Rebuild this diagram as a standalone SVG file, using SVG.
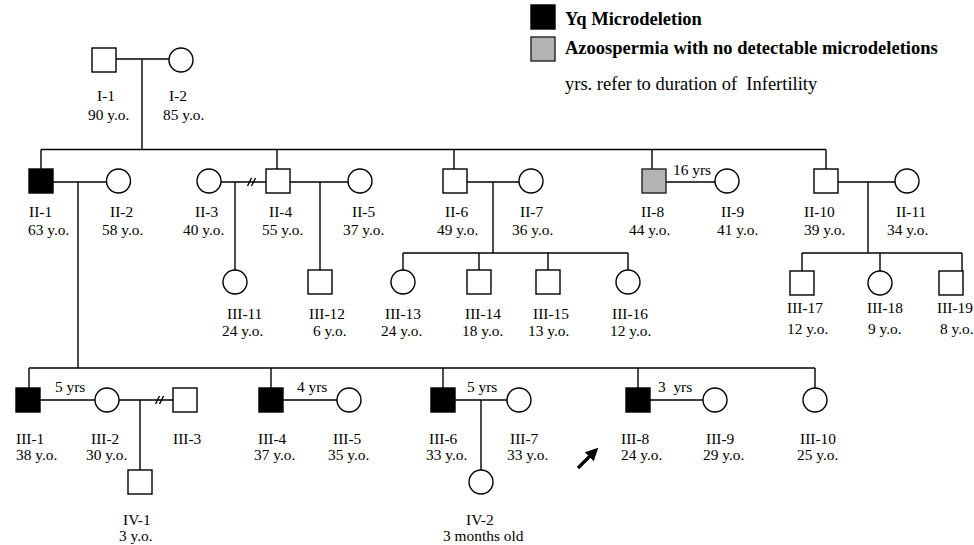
<svg xmlns="http://www.w3.org/2000/svg" width="974" height="545" viewBox="0 0 974 545">
<style>
.s{fill:#fff;stroke:#000;stroke-width:1.4}
.a{fill:#000;stroke:#000;stroke-width:1.4}
.g{fill:#b4b4b4;stroke:#222;stroke-width:1.4}
.l{stroke:#000;stroke-width:1.4;fill:none}
text{font-family:"Liberation Serif","Times New Roman",serif;font-size:15.4px;fill:#000}
.b{font-weight:bold;font-size:18.5px}
.n{font-size:18.5px}
</style>
<defs>
<marker id="ah" markerWidth="4" markerHeight="4" refX="3" refY="2" orient="auto" markerUnits="strokeWidth">
<path d="M0,0 L4,2 L0,4 Z" fill="#000"/>
</marker>
</defs>
<g id="legend">
<rect x="531" y="5" width="24" height="24" class="a"/>
<text x="565" y="25" class="b">Yq Microdeletion</text>
<rect x="531" y="37" width="24" height="24" class="g"/>
<text x="565" y="54" class="b">Azoospermia with no detectable microdeletions</text>
<text x="565" y="90" class="n" xml:space="preserve">yrs. refer to duration of  Infertility</text>
</g>
<g id="connectors">
<line class="l" x1="116" y1="59" x2="169" y2="59"/>
<line class="l" x1="142" y1="59" x2="142" y2="149.5"/>
<line class="l" x1="41" y1="149.5" x2="826" y2="149.5"/>
<line class="l" x1="41" y1="149.5" x2="41" y2="169"/>
<line class="l" x1="277" y1="149.5" x2="277" y2="169"/>
<line class="l" x1="454" y1="149.5" x2="454" y2="169"/>
<line class="l" x1="652" y1="149.5" x2="652" y2="169"/>
<line class="l" x1="826" y1="149.5" x2="826" y2="169"/>
<line class="l" x1="53" y1="182" x2="106.5" y2="182"/>
<line class="l" x1="78" y1="182" x2="78" y2="368"/>
<line class="l" x1="221" y1="182" x2="266" y2="182"/>
<line class="l" x1="247.5" y1="186" x2="251.5" y2="178"/>
<line class="l" x1="251.5" y1="186" x2="255.5" y2="178"/>
<line class="l" x1="235" y1="182" x2="235" y2="270"/>
<line class="l" x1="290" y1="182" x2="348" y2="182"/>
<line class="l" x1="320" y1="182" x2="320" y2="270"/>
<line class="l" x1="467" y1="182" x2="519" y2="182"/>
<line class="l" x1="493" y1="182" x2="493" y2="253"/>
<line class="l" x1="403" y1="253" x2="628" y2="253"/>
<line class="l" x1="403" y1="253" x2="403" y2="270"/>
<line class="l" x1="479" y1="253" x2="479" y2="270"/>
<line class="l" x1="548" y1="253" x2="548" y2="270"/>
<line class="l" x1="628" y1="253" x2="628" y2="270"/>
<line class="l" x1="666" y1="182" x2="715" y2="182"/>
<line class="l" x1="838" y1="182" x2="895" y2="182"/>
<line class="l" x1="868" y1="182" x2="868" y2="253"/>
<line class="l" x1="802" y1="253" x2="962" y2="253"/>
<line class="l" x1="802" y1="253" x2="802" y2="271"/>
<line class="l" x1="880" y1="253" x2="880" y2="271"/>
<line class="l" x1="962" y1="253" x2="962" y2="271"/>
<line class="l" x1="29" y1="368" x2="815" y2="368"/>
<line class="l" x1="29" y1="368" x2="29" y2="388"/>
<line class="l" x1="271" y1="368" x2="271" y2="388"/>
<line class="l" x1="443" y1="368" x2="443" y2="388"/>
<line class="l" x1="638" y1="368" x2="638" y2="388"/>
<line class="l" x1="815" y1="368" x2="815" y2="388"/>
<line class="l" x1="40" y1="400" x2="95" y2="400"/>
<line class="l" x1="119" y1="400" x2="173" y2="400"/>
<line class="l" x1="155.5" y1="404" x2="159.5" y2="396"/>
<line class="l" x1="159.5" y1="404" x2="163.5" y2="396"/>
<line class="l" x1="140" y1="400" x2="140" y2="470"/>
<line class="l" x1="283" y1="400" x2="337" y2="400"/>
<line class="l" x1="455" y1="400" x2="507" y2="400"/>
<line class="l" x1="481" y1="400" x2="481" y2="470"/>
<line class="l" x1="650" y1="400" x2="703" y2="400"/>
<text x="673" y="175">16 yrs</text>
<text x="55" y="392">5 yrs</text>
<text x="297" y="392">4 yrs</text>
<text x="467" y="392">5 yrs</text>
<text x="658" y="392" xml:space="preserve">3  yrs</text>
</g>
<g id="proband-arrow">
<line x1="578" y1="468" x2="596" y2="450" stroke="#000" stroke-width="3.2" marker-end="url(#ah)"/>
</g>
<g id="I-1"><rect x="92" y="48" width="24" height="24" class="s"/><text x="97" y="101">I-1</text><text x="88" y="120">90 y.o.</text></g>
<g id="I-2"><circle cx="181" cy="60" r="12" class="s"/><text x="169" y="101">I-2</text><text x="163" y="120">85 y.o.</text></g>
<g id="II-1"><rect x="29" y="169" width="24" height="24" class="a"/><text x="29" y="217">II-1</text><text x="28" y="235">63 y.o.</text></g>
<g id="II-2"><circle cx="118.5" cy="181" r="12" class="s"/><text x="110" y="217">II-2</text><text x="102" y="235">58 y.o.</text></g>
<g id="II-3"><circle cx="209" cy="181" r="12" class="s"/><text x="195" y="217">II-3</text><text x="183" y="235">40 y.o.</text></g>
<g id="II-4"><rect x="266" y="169" width="24" height="24" class="s"/><text x="269" y="217">II-4</text><text x="262" y="235">55 y.o.</text></g>
<g id="II-5"><circle cx="360" cy="181" r="12" class="s"/><text x="352" y="217">II-5</text><text x="343" y="235">37 y.o.</text></g>
<g id="II-6"><rect x="443" y="169" width="24" height="24" class="s"/><text x="445" y="217">II-6</text><text x="437" y="235">49 y.o.</text></g>
<g id="II-7"><circle cx="531" cy="181" r="12" class="s"/><text x="520" y="217">II-7</text><text x="512" y="235">36 y.o.</text></g>
<g id="II-8"><rect x="642" y="169" width="24" height="24" class="g"/><text x="641" y="217">II-8</text><text x="629" y="235">44 y.o.</text></g>
<g id="II-9"><circle cx="727" cy="181" r="12" class="s"/><text x="721" y="217">II-9</text><text x="717" y="235">41 y.o.</text></g>
<g id="II-10"><rect x="814" y="169" width="24" height="24" class="s"/><text x="804" y="217">II-10</text><text x="804" y="235">39 y.o.</text></g>
<g id="II-11"><circle cx="907" cy="181" r="12" class="s"/><text x="896" y="217">II-11</text><text x="887" y="235">34 y.o.</text></g>
<g id="III-11"><circle cx="235" cy="282" r="12" class="s"/><text x="227" y="319">III-11</text><text x="222" y="336">24 y.o.</text></g>
<g id="III-12"><rect x="308" y="270" width="24" height="24" class="s"/><text x="309" y="319">III-12</text><text x="313" y="336">6 y.o.</text></g>
<g id="III-13"><circle cx="403" cy="282" r="12" class="s"/><text x="385" y="319">III-13</text><text x="381" y="336">24 y.o.</text></g>
<g id="III-14"><rect x="467" y="270" width="24" height="24" class="s"/><text x="465" y="319">III-14</text><text x="462" y="336">18 y.o.</text></g>
<g id="III-15"><rect x="536" y="270" width="24" height="24" class="s"/><text x="533" y="319">III-15</text><text x="528" y="336">13 y.o.</text></g>
<g id="III-16"><circle cx="628" cy="282" r="12" class="s"/><text x="612" y="319">III-16</text><text x="610" y="336">12 y.o.</text></g>
<g id="III-17"><rect x="790" y="271" width="24" height="24" class="s"/><text x="787" y="313">III-17</text><text x="787" y="334">12 y.o.</text></g>
<g id="III-18"><circle cx="880" cy="283" r="12" class="s"/><text x="867" y="313">III-18</text><text x="868" y="334">9 y.o.</text></g>
<g id="III-19"><rect x="939" y="271" width="24" height="24" class="s"/><text x="937" y="313">III-19</text><text x="940" y="334">8 y.o.</text></g>
<g id="III-1"><rect x="16" y="388" width="24" height="24" class="a"/><text x="16" y="444">III-1</text><text x="16" y="460">38 y.o.</text></g>
<g id="III-2"><circle cx="107" cy="400" r="12" class="s"/><text x="91" y="444">III-2</text><text x="86" y="460">30 y.o.</text></g>
<g id="III-3"><rect x="173" y="388" width="24" height="24" class="s"/><text x="173" y="444">III-3</text></g>
<g id="III-4"><rect x="259" y="388" width="24" height="24" class="a"/><text x="258" y="444">III-4</text><text x="254" y="460">37 y.o.</text></g>
<g id="III-5"><circle cx="349" cy="400" r="12" class="s"/><text x="333" y="444">III-5</text><text x="328" y="460">35 y.o.</text></g>
<g id="III-6"><rect x="431" y="388" width="24" height="24" class="a"/><text x="429" y="444">III-6</text><text x="426" y="460">33 y.o.</text></g>
<g id="III-7"><circle cx="519" cy="400" r="12" class="s"/><text x="510" y="444">III-7</text><text x="507" y="460">33 y.o.</text></g>
<g id="III-8"><rect x="626" y="388" width="24" height="24" class="a"/><text x="621" y="444">III-8</text><text x="621" y="460">24 y.o.</text></g>
<g id="III-9"><circle cx="715" cy="400" r="12" class="s"/><text x="706" y="444">III-9</text><text x="703" y="460">29 y.o.</text></g>
<g id="III-10"><circle cx="815" cy="400" r="12" class="s"/><text x="800" y="444">III-10</text><text x="797" y="460">25 y.o.</text></g>
<g id="IV-1"><rect x="128" y="470" width="24" height="24" class="s"/><text x="123" y="525">IV-1</text><text x="119" y="541">3 y.o.</text></g>
<g id="IV-2"><circle cx="481" cy="482" r="12" class="s"/><text x="466" y="525">IV-2</text><text x="443" y="541">3 months old</text></g>
</svg>
